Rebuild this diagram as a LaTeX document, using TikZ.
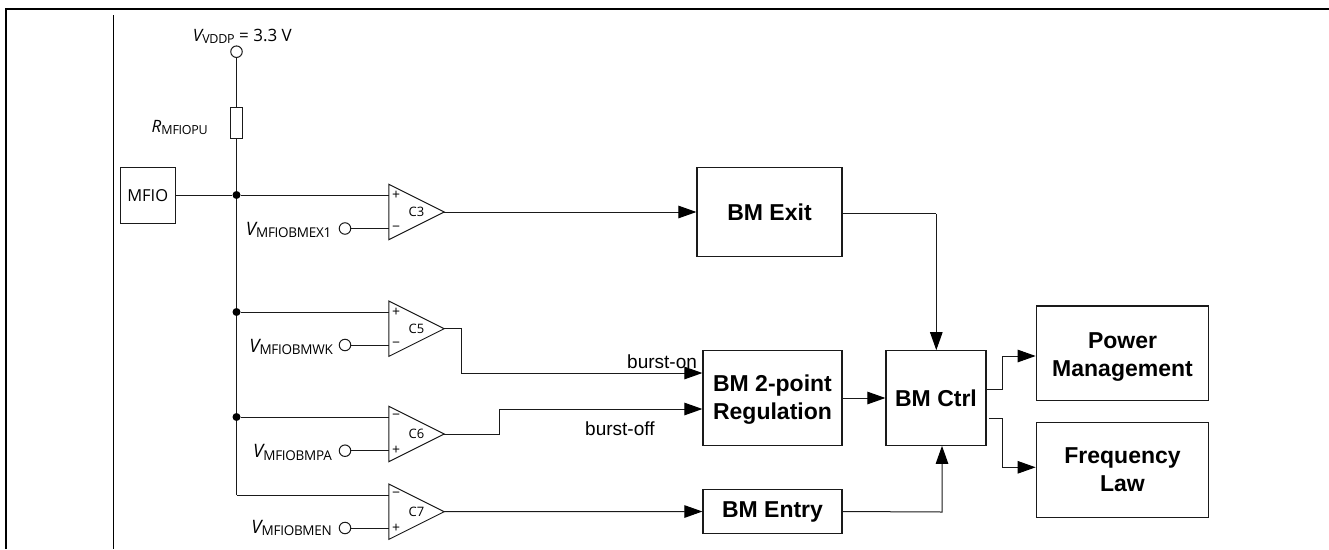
\documentclass[tikz,border=0pt]{standalone}
\usepackage{fontspec}
\setmainfont{Liberation Sans}
\newfontfamily\opn{Open Sans}
\usetikzlibrary{arrows.meta,calc}
\definecolor{ink}{HTML}{1A1A1A}
\tikzset{
  wire/.style={draw=ink,line width=1pt},
  awire/.style={wire,-{Triangle[length=18pt,width=12.5pt,color=black]}},
  blockbox/.style={draw=ink,line width=1.2pt,inner sep=0pt,align=center,font=\fontsize{23}{28}\selectfont\bfseries},
  compbox/.style={inner sep=0pt,minimum width=55pt,minimum height=55pt,font=\opn\fontsize{13}{13}\selectfont},
  port/.style={circle,draw=ink,line width=1pt,fill=white,inner sep=0pt,minimum size=11.5pt},
  dot/.style={circle,fill=black,inner sep=0pt,minimum size=8pt},
  sign/.style={inner sep=0pt,font=\opn\fontsize{14}{14}\selectfont},
  vlabel/.style={inner sep=0pt,anchor=base east,font=\opn\fontsize{17}{17}\selectfont},
  siglabel/.style={inner sep=0pt,anchor=base west,font=\fontsize{19}{19}\selectfont}
}
\newcommand{\vsub}[2]{{\itshape #1}\raisebox{-2.5pt}{\fontsize{12.5}{12.5}\selectfont\addfontfeature{LetterSpace=-2}#2}}
\newcommand{\vlong}[2]{{\fontsize{18.5}{18.5}\selectfont\itshape #1}\raisebox{-2.5pt}{\fontsize{13.5}{13.5}\selectfont\addfontfeature{LetterSpace=-2}#2}}
\newcommand{\comparator}[1]{\draw[draw=ink,line width=1pt] (#1.north west) -- (#1.east) -- (#1.south west) -- cycle;}
\begin{document}
\begin{tikzpicture}[x=1pt,y=-1pt]
\useasboundingbox (0,0) rectangle (1329,549);
% frame
\coordinate (ftl) at (5.5,9);
\coordinate (fbl) at (5.5,549);
\coordinate (ftr) at (1329,9);
\coordinate (vtop) at (113.3,15);
\coordinate (vbot) at (113.3,549);
\draw[black,line width=2pt] (fbl) -- (ftl) -- (ftr);
\draw[black,line width=1pt] (vtop) -- (vbot);
% blocks
\node[blockbox,minimum width=55pt,minimum height=55.5pt,font=\opn\fontsize{16.5}{16.5}\selectfont] (mfio) at (147.7,195.5) {MFIO};
\node[draw=ink,line width=1pt,inner sep=0pt,minimum width=11.5pt,minimum height=31pt] (rpu) at (236.5,122.5) {};
\node[blockbox,minimum width=145pt,minimum height=89.4pt] (exit) at (769.5,212) {BM Exit};
\node[blockbox,minimum width=139pt,minimum height=94.5pt] (reg) at (772.5,398) {\rule{0pt}{20.4pt}BM 2-point\\Regulation};
\node[blockbox,minimum width=139pt,minimum height=44.5pt] (entry) at (772.5,511.5) {BM Entry};
\node[blockbox,minimum width=100pt,minimum height=94.5pt] (ctrl) at (936,398) {BM Ctrl};
\node[blockbox,minimum width=172.5pt,minimum height=94.5pt] (pwr) at (1122.5,353.3) {\rule{0pt}{23pt}Power\\Management};
\node[blockbox,minimum width=172.5pt,minimum height=94.5pt] (freq) at (1122.5,470) {Frequency\\Law};
% comparators
\node[compbox] (c3) at (416.5,212) {C3};
\node[compbox] (c5) at (416.5,328.7) {C5};
\node[compbox] (c6) at (416.5,434) {C6};
\node[compbox] (c7) at (416.5,511.7) {C7};
\comparator{c3}\comparator{c5}\comparator{c6}\comparator{c7}
% ports
\node[port] (pvddp) at (236.5,51.7) {};
\node[port] (p3) at (345,228.5) {};
\node[port] (p5) at (345,345) {};
\node[port] (p6) at (345,450.7) {};
\node[port] (p7) at (345,528) {};
% junctions
\node[dot] (j3) at (236.5,195) {};
\node[dot] (j5) at (236.5,312) {};
\node[dot] (j6) at (236.5,417) {};
\coordinate (j7) at (236.5,495);
% wires
\draw[wire] (pvddp) -- (rpu);
\draw[wire] (rpu) -- (j3);
\draw[wire] (j3) -- (j5);
\draw[wire] (j5) -- (j6);
\draw[wire] (j6) -- (j7);
\draw[wire] (mfio.east |- j3) -- (j3);
\draw[wire] (j3) -- (c3.west |- j3);
\draw[wire] (p3) -- (c3.west |- p3);
\draw[wire] (j5) -- (c5.west |- j5);
\draw[wire] (p5) -- (c5.west |- p5);
\draw[wire] (j6) -- (c6.west |- j6);
\draw[wire] (p6) -- (c6.west |- p6);
\draw[wire] (j7) -- (c7.west |- j7);
\draw[wire] (p7) -- (c7.west |- p7);
% outputs
\coordinate (bon) at (461,373);
\coordinate (boff) at (499,409);
\coordinate (o1) at (1002.7,389.3);
\coordinate (o2) at (1002.7,418);
\coordinate (i1) at (1002.7,356);
\coordinate (i2) at (1002.7,467.3);
\coordinate (exitdown) at (936.3,213.5);
\coordinate (entryup) at (942,512);
\draw[awire] (c3.east) -- (exit.west);
\draw[wire] (exit.east |- exitdown) -- (exitdown);
\draw[awire] (exitdown) -- (exitdown |- ctrl.north);
\draw[awire] (c5.east) -- (c5.east -| bon) -- (bon) -- (reg.west |- bon);
\draw[awire] (c6.east) -- (c6.east -| boff) -- (boff) -- (reg.west |- boff);
\draw[awire] (c7.east) -- (entry.west);
\draw[awire] (reg.east) -- (ctrl.west);
\draw[awire] (entry.east) -- (entryup) -- (ctrl.south -| entryup);
\draw[awire] (ctrl.east |- o1) -- (o1) -- (i1) -- (pwr.west |- i1);
\draw[awire] ($(ctrl.east |- o2)+(2.3,0)$) -- (o2) -- (i2) -- (freq.west |- i2);
% signs
\foreach \n/\s/\yy in {a/+/195,b/−/228.5,c/+/312,d/−/345,e/−/417,f/+/450.7,g/−/495,h/+/528}
  \node[sign] (s\n) at (396,\yy) {\s};
% labels
\node[vlabel] (lvddp) at (292,41) {\vsub{V}{VDDP} = 3.3 V};
\node[vlabel] (lrpu) at (208,132) {\vsub{R}{MFIOPU}};
\node[vlabel] (l3) at (331.5,235) {\vlong{V}{MFIOBMEX1}};
\node[vlabel] (l5) at (333,352) {\vlong{V}{MFIOBMWK}};
\node[vlabel] (l6) at (332,457.5) {\vlong{V}{MFIOBMPA}};
\node[vlabel] (l7) at (332,533) {\vlong{V}{MFIOBMEN}};
\node[siglabel] (lon) at (627,368) {burst-on};
\node[siglabel] (loff) at (585,435) {burst-off};
\end{tikzpicture}
\end{document}
